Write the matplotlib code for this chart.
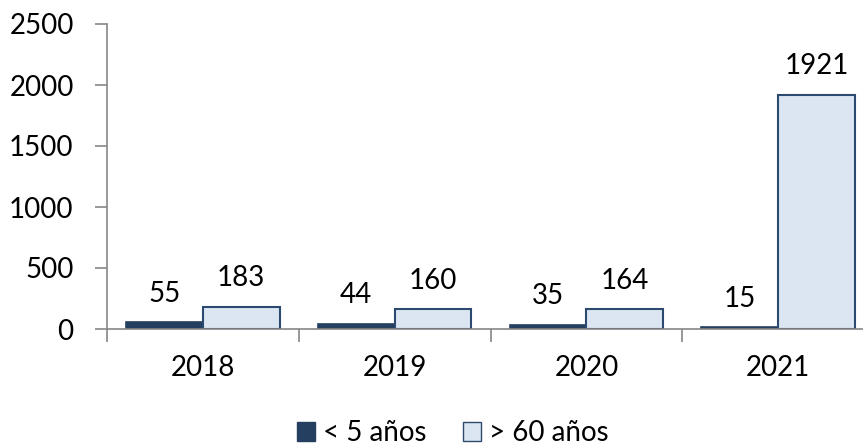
import matplotlib.pyplot as plt
import numpy as np
from matplotlib.patches import Patch

years = ["2018", "2019", "2020", "2021"]
under_5 = [55, 44, 35, 15]
over_60 = [183, 160, 164, 1921]

DARK = "#243F60"
LIGHT = "#DCE6F2"
EDGE = "#2C4A70"
AXIS = "#868686"

plt.rcParams["font.family"] = ["Lato", "DejaVu Sans"]
FS = 20


def main():
    fig = plt.figure(figsize=(8.63, 4.46), dpi=100)
    # axes spans past the right edge on purpose, like the source
    ax = fig.add_axes([107 / 863, 1 - 329 / 446, 767 / 863, 305 / 446])

    x = np.arange(len(years))
    w = 0.40
    ax.bar(x - w / 2, under_5, w, color=DARK, edgecolor=DARK, linewidth=1.2,
           label="< 5 años")
    ax.bar(x + w / 2, over_60, w, color=LIGHT, edgecolor=EDGE, linewidth=1.5,
           label="> 60 años")

    for xi, v in zip(x - w / 2, under_5):
        ax.annotate(str(v), (xi, v), xytext=(0, 11), textcoords="offset points",
                    ha="center", va="bottom", fontsize=FS)
    for xi, v in zip(x + w / 2, over_60):
        ax.annotate(str(v), (xi, v), xytext=(0, 11), textcoords="offset points",
                    ha="center", va="bottom", fontsize=FS)

    ax.set_xlim(-0.5, 3.5)
    ax.set_ylim(0, 2500)
    ax.set_yticks([0, 500, 1000, 1500, 2000, 2500])
    ax.set_xticks(x)
    ax.set_xticklabels(years)
    ax.set_xticks(np.arange(-0.5, 4.0, 1.0), minor=True)
    ax.tick_params(axis="x", which="major", length=0, pad=19, labelsize=FS)
    ax.tick_params(axis="x", which="minor", length=9, width=1.2, color=AXIS)
    ax.tick_params(axis="y", length=9, width=1.2, color=AXIS, pad=15,
                   labelsize=FS)

    for side in ["top", "right"]:
        ax.spines[side].set_visible(False)
    for side in ["left", "bottom"]:
        ax.spines[side].set_color(AXIS)
        ax.spines[side].set_linewidth(1.2)

    handles = [Patch(facecolor=DARK, edgecolor=DARK, label="< 5 años"),
               Patch(facecolor=LIGHT, edgecolor=EDGE, label="> 60 años")]
    fig.legend(handles=handles, loc="center", bbox_to_anchor=(0.525, 1 - 433 / 446),
               ncol=2, frameon=False, fontsize=FS, handlelength=0.65,
               handleheight=0.65, handletextpad=0.3, columnspacing=1.3,
               borderpad=0)

    fig.savefig("out.png", dpi=100)


if __name__ == "__main__":
    main()
